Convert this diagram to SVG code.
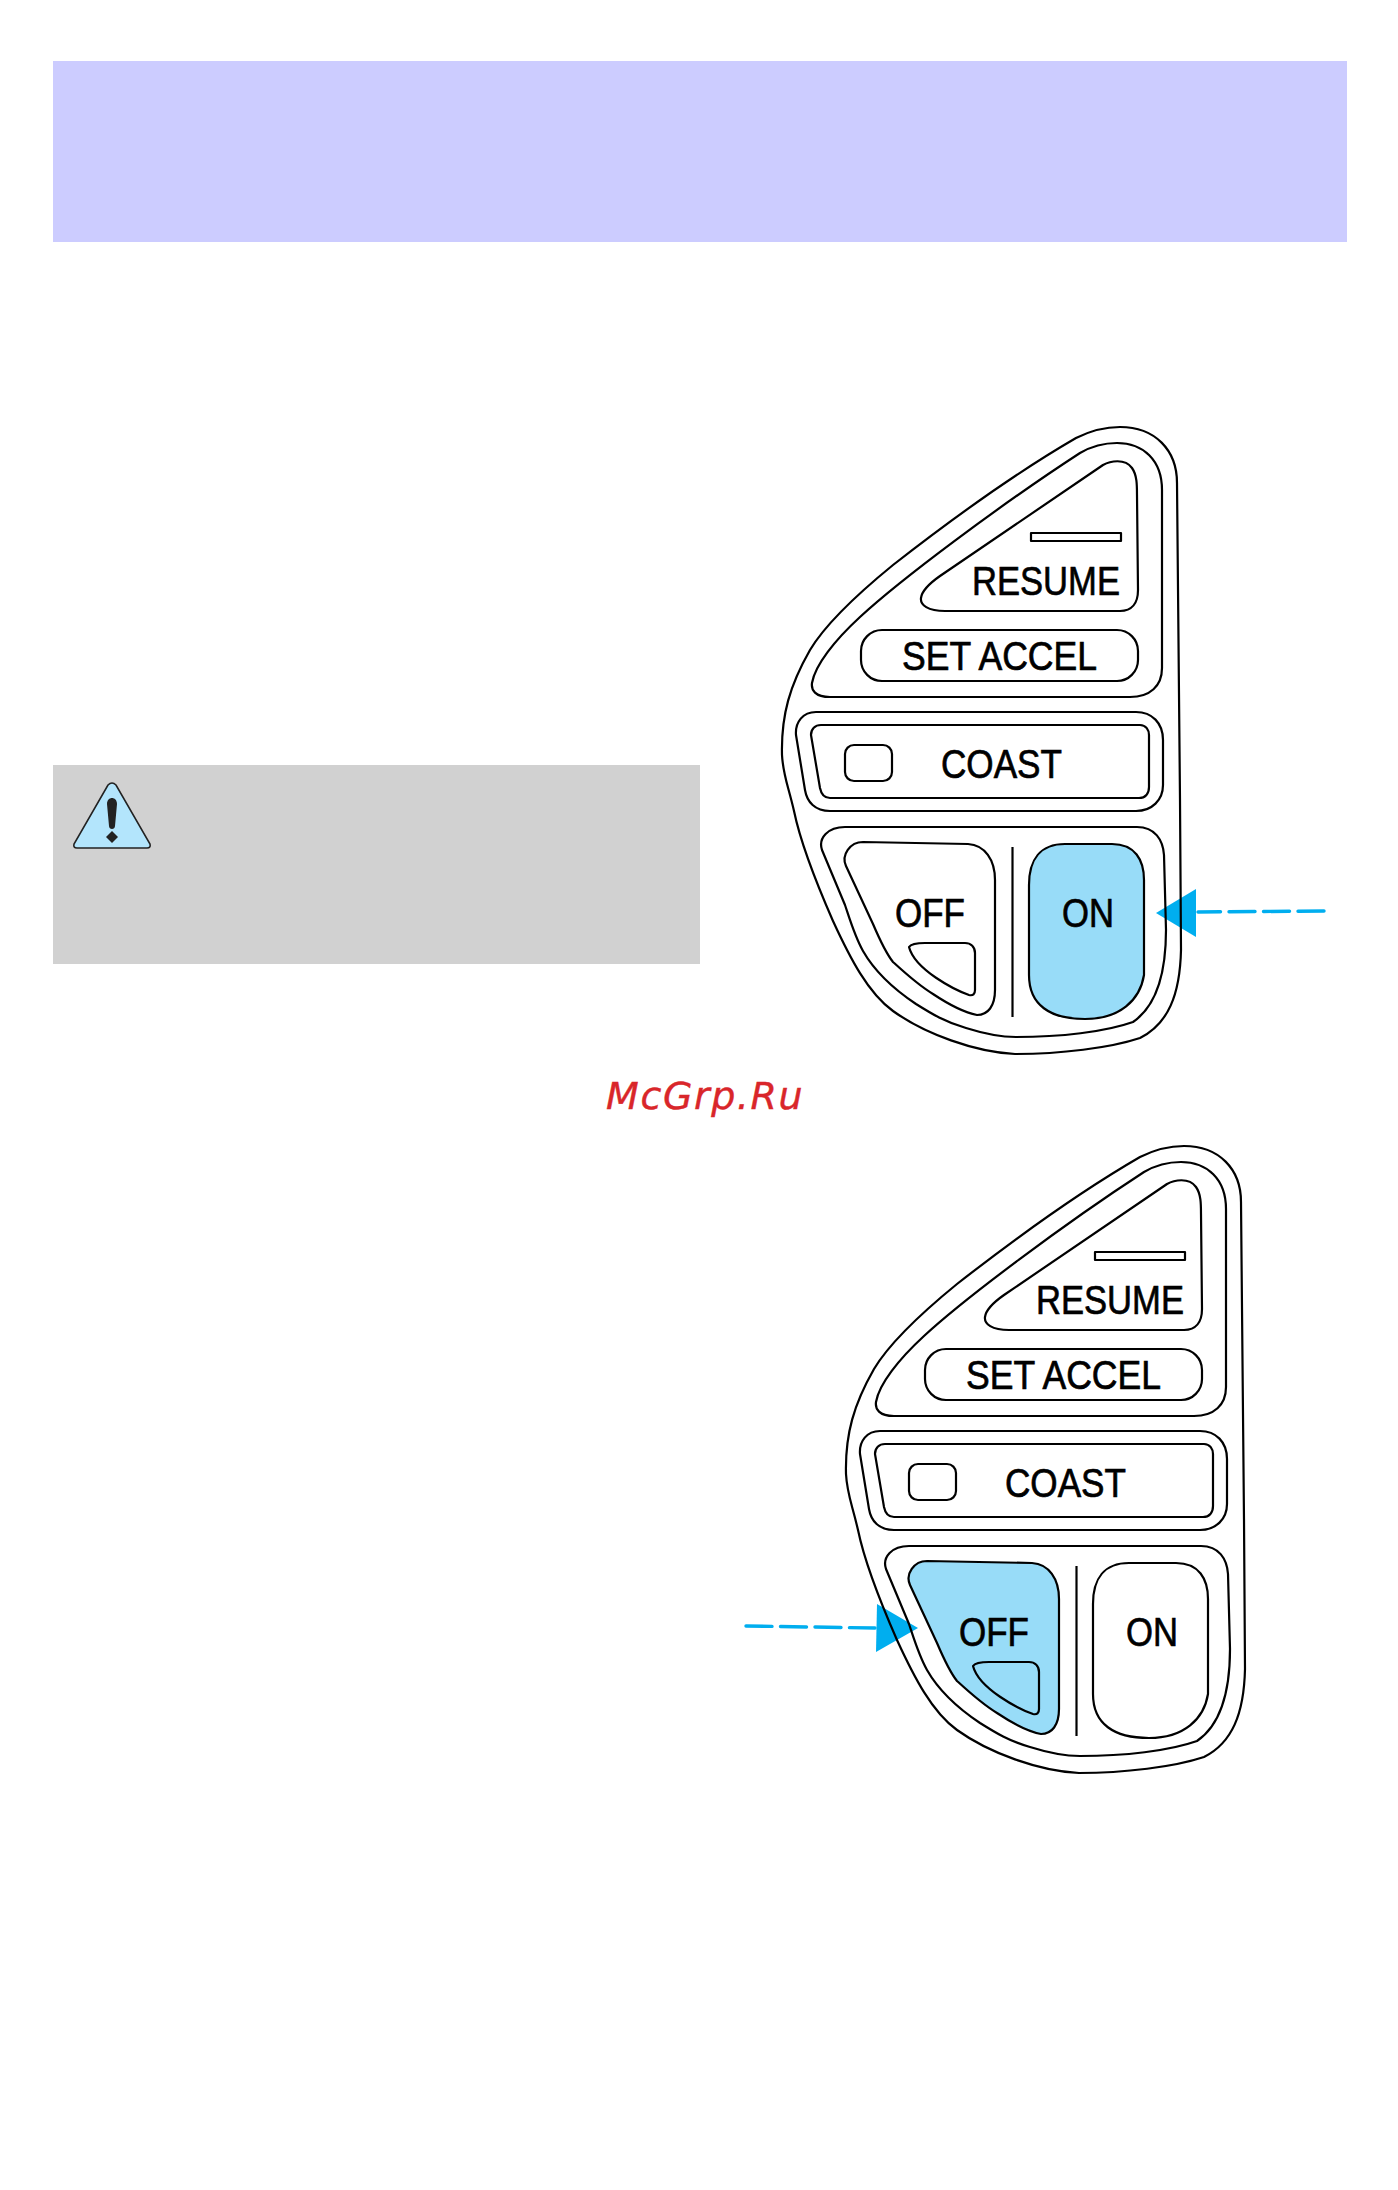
<svg xmlns="http://www.w3.org/2000/svg" xmlns:xlink="http://www.w3.org/1999/xlink" width="1398" height="2190" viewBox="0 0 1398 2190">
<style>
.ln{fill:none;stroke:#000;stroke-width:2.2;stroke-linejoin:round}
.wh{fill:#fff;stroke:#000;stroke-width:2.2}
.bl{fill:#98dcf8;stroke:#000;stroke-width:2.2}
.lb{font-family:"Liberation Sans",Arial,sans-serif;font-size:41px;fill:#000;stroke:#000;stroke-width:.7}
.dash{fill:none;stroke:#00aeef;stroke-width:3.4;stroke-linecap:round;stroke-dasharray:26 8.5}
.head{fill:#00aeef}
</style>
<defs>
<path id="p-outer" d="M1076,438 C1092,430 1104,427 1120,427 C1155,427 1177,450 1177,483 L1180,800 L1181,950 C1180,995 1168,1024 1140,1038 C1110,1048 1060,1054 1015,1054 C975,1052 925,1034 893,1011 C868,993 850,958 833,921 C815,880 800,840 794,811 C788,785 783,775 782,755 C781,715 790,685 810,650 C825,625 855,596 893,565 C925,540 1000,482 1076,438 Z"/>
<path id="p-top" d="M1080,453 C1092,446 1104,443 1117,443 C1143,443 1162,460 1162,490 L1162,668 C1162,686 1150,697 1130,697 L830,697 C815,697 811,690 812,683 C815,665 835,640 860,617 C900,580 1000,505 1080,453 Z"/>
<path id="p-resume" d="M1103,465 C1110,461 1125,458 1132,468 C1137,475 1137,485 1137,495 L1138,590 C1138,603 1132,611 1120,611 L945,611 C928,611 920,605 921,598 C922,590 930,583 940,576 Z"/>
<path id="p-coast-o" d="M816,712 L1136,712 C1152,712 1163,723 1163,740 L1163,785 C1163,800 1152,811 1136,811 L830,811 C815,811 807,802 805,790 L796,735 C795,722 803,712 816,712 Z"/>
<path id="p-coast-i" d="M821,725 L1140,725 C1146,725 1149,730 1149,735 L1149,787 C1149,794 1145,798 1139,798 L830,798 C824,798 821,793 820,788 L811,735 C811,729 815,725 821,725 Z"/>
<path id="p-lower" d="M845,827 L1137,827 C1155,827 1163,840 1164,855 L1166,930 C1166,970 1158,1005 1133,1022 C1105,1032 1060,1037 1016,1037 C1000,1037 985,1034 966,1028 C945,1022 932,1014 916,1004 C895,990 875,972 863,951 C855,937 850,920 845,905 L822,850 C818,838 828,827 845,827 Z"/>
<path id="p-off" d="M863,842 L968,844 C985,845 995,860 995,880 L995,990 C995,1006 988,1015 977,1015 C962,1012 948,1004 933,994 C918,985 905,973 893,962 C885,952 879,938 873,924 L846,866 C841,855 850,842 863,842 Z"/>
<path id="p-off-i" d="M909,947 C911,944 918,943 925,943 L965,943 C971,943 975,947 975,953 L975,990 C975,994 973,996 969,995 C955,990 915,970 909,947 Z"/>
<path id="p-on" d="M1029,885 C1029,860 1040,844 1065,844 L1112,844 C1135,844 1144,860 1144,880 L1144,975 C1140,1000 1120,1019 1085,1019 C1050,1019 1029,1005 1029,975 Z"/>
</defs>
<rect width="1398" height="2190" fill="#fff"/>
<rect id="header-band" x="53" y="61" width="1294" height="181" fill="#ccccff"/>
<g id="warning">
<rect x="53" y="765" width="647" height="199" fill="#d1d1d1"/>
<path d="M108,785 Q112,781 116,785 L150,844 Q151,848 147,848 L77,848 Q73,848 74,844 Z" fill="#b3e5fc" stroke="#222" stroke-width="1.6"/>
<path d="M107,804 C107,796 117,796 117,804 L115,826 C115,830 109,830 109,826 Z" fill="#222"/>
<path d="M112,831 L118,837 L112,843 L106,837 Z" fill="#222"/>
</g>
<text id="watermark" x="606" y="1109" font-family="'DejaVu Sans',sans-serif" font-style="italic" font-size="38" letter-spacing="1.6" fill="#d9262a" stroke="#d9262a" stroke-width=".4">McGrp.Ru</text>
<g id="connectors">
<path class="dash" d="M1324,911 L1198,912"/>
<path class="head" d="M1156,913 L1196,889 L1196,937 Z"/>
<path class="dash" d="M746,1626 L875,1628"/>
<path class="head" d="M877,1604 L918,1628 L876,1652 Z"/>
</g>
<g id="control-on">
<use href="#p-outer" class="ln"/>
<use href="#p-top" class="ln"/>
<g id="on-resume"><use href="#p-resume" class="ln"/><rect x="1031" y="533" width="90" height="8" class="ln"/><text class="lb" x="972" y="595" textLength="148" lengthAdjust="spacingAndGlyphs">RESUME</text></g>
<g id="on-set"><rect x="861" y="630" width="277" height="51" rx="21" class="ln"/><text class="lb" x="902" y="670" textLength="195" lengthAdjust="spacingAndGlyphs">SET ACCEL</text></g>
<g id="on-coast"><use href="#p-coast-o" class="ln"/><use href="#p-coast-i" class="ln"/><rect x="845" y="745" width="47" height="36" rx="9" class="ln"/><text class="lb" x="941" y="778" textLength="121" lengthAdjust="spacingAndGlyphs">COAST</text></g>
<use href="#p-lower" class="ln"/>
<g id="on-off"><use href="#p-off" class="ln"/><use href="#p-off-i" class="ln"/><text class="lb" x="895" y="927" textLength="70" lengthAdjust="spacingAndGlyphs">OFF</text></g>
<path d="M1012.5,847 V1017" class="ln"/>
<g id="on-on"><use href="#p-on" class="bl"/><text class="lb" x="1062" y="927" textLength="52" lengthAdjust="spacingAndGlyphs">ON</text></g>
</g>
<g id="control-off" transform="translate(64,719)">
<use href="#p-outer" class="ln"/>
<use href="#p-top" class="ln"/>
<g id="off-resume"><use href="#p-resume" class="ln"/><rect x="1031" y="533" width="90" height="8" class="ln"/><text class="lb" x="972" y="595" textLength="148" lengthAdjust="spacingAndGlyphs">RESUME</text></g>
<g id="off-set"><rect x="861" y="630" width="277" height="51" rx="21" class="ln"/><text class="lb" x="902" y="670" textLength="195" lengthAdjust="spacingAndGlyphs">SET ACCEL</text></g>
<g id="off-coast"><use href="#p-coast-o" class="ln"/><use href="#p-coast-i" class="ln"/><rect x="845" y="745" width="47" height="36" rx="9" class="ln"/><text class="lb" x="941" y="778" textLength="121" lengthAdjust="spacingAndGlyphs">COAST</text></g>
<use href="#p-lower" class="ln"/>
<g id="off-off"><use href="#p-off" class="bl"/><use href="#p-off-i" class="ln"/><text class="lb" x="895" y="927" textLength="70" lengthAdjust="spacingAndGlyphs">OFF</text></g>
<path d="M1012.5,847 V1017" class="ln"/>
<g id="off-on"><use href="#p-on" class="wh"/><text class="lb" x="1062" y="927" textLength="52" lengthAdjust="spacingAndGlyphs">ON</text></g>
</g>
</svg>
